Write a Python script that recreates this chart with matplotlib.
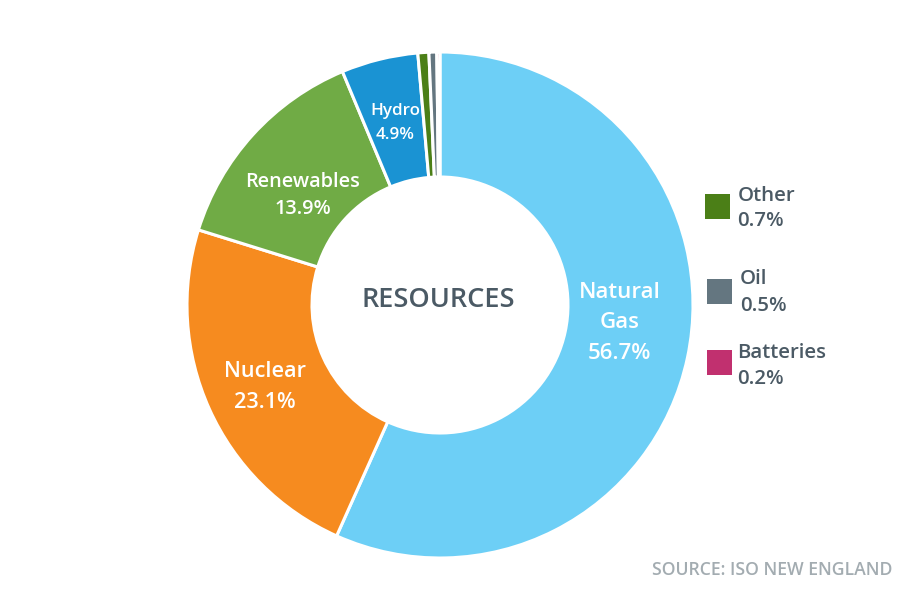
import matplotlib
matplotlib.use("Agg")
import matplotlib.pyplot as plt
from matplotlib import font_manager as fm

categories = ["Natural Gas", "Nuclear", "Renewables", "Hydro", "Other", "Oil", "Batteries"]
values = [56.7, 23.1, 13.9, 4.9, 0.7, 0.5, 0.2]
colors = ["#6dcff6", "#f68b1f", "#70ab45", "#1a93d3", "#4b7f17", "#647680", "#c1306f"]
legend_items = ["Other", "Oil", "Batteries"]

W, H = 899, 601
fig = plt.figure(figsize=(W / 100, H / 100), dpi=100)
ax = fig.add_axes([0, 0, 1, 1])

cx, cy, R, r_in = 440, 305, 253, 128
ax.pie(values, colors=colors, startangle=90, counterclock=False,
       center=(cx, H - cy), radius=R,
       wedgeprops=dict(width=R - r_in, edgecolor="white", linewidth=2.2),
       frame=True)
ax.set_xlim(0, W)
ax.set_ylim(0, H)
ax.set_aspect("equal")
ax.axis("off")

# choose an Open Sans face close to semibold
cands = [f for f in fm.fontManager.ttflist
         if f.name == "Open Sans" and f.style == "normal"]
static = [f for f in cands if "[" not in f.fname]
pool = static if static else cands
if pool:
    best = min(pool, key=lambda f: (abs(int(f.weight) - 600) if str(f.weight).isdigit() else 999,
                                    -int(f.weight) if str(f.weight).isdigit() else 0))
    FP = fm.FontProperties(fname=best.fname)
else:
    FP = fm.FontProperties(family="DejaVu Sans", weight="bold")

renderer = fig.canvas.get_renderer()
TXT = "#4b5a65"


def width_of(s, size):
    t = ax.text(0, 0, s, fontproperties=FP, fontsize=size)
    w = t.get_window_extent(renderer).width
    t.remove()
    return w


def fit_size(lines, target, size0=14.0):
    size = size0
    for _ in range(3):
        w = max(width_of(s, size) for s in lines)
        size *= target / w
    return size


def put(x, yb, s, size, color, ha):
    ax.text(x, H - yb, s, fontproperties=FP, fontsize=size, color=color,
            ha=ha, va="baseline")


def block(lines, baselines, x, target, color="white", ha="center"):
    size = fit_size(lines, target)
    for s, yb in zip(lines, baselines):
        put(x, yb, s, size, color, ha)


block(["Natural", "Gas", "56.7%"], [298, 328.5, 359], 619.5, 82)
block(["Nuclear", "23.1%"], [377, 408.5], 265, 82)
block(["Renewables", "13.9%"], [187, 214], 303, 115)
block(["Hydro", "4.9%"], [115, 139], 395, 50)
block(["RESOURCES"], [307.3], 438.7, 154, color=TXT)

# legend for the small slices
leg_size = fit_size(["Batteries"], 89)
leg_geom = {"Other": (705, 194, 737.5, 200.7, 226.5),
            "Oil": (707, 279, 740, 284, 311),
            "Batteries": (707, 350, 737, 358, 384.5)}
for name in legend_items:
    i = categories.index(name)
    sx, sy, tx, b1, b2 = leg_geom[name]
    ax.add_patch(plt.Rectangle((sx, H - sy - 24.5), 24.5, 24.5, color=colors[i], lw=0))
    put(tx, b1, name, leg_size, TXT, "left")
    put(tx, b2, f"{values[i]}%", leg_size, TXT, "left")

src = "SOURCE: ISO NEW ENGLAND"
put(892.7, 574.7, src, fit_size([src], 241), "#a3acb1", "right")

fig.savefig("out.png", dpi=100, facecolor="white")
